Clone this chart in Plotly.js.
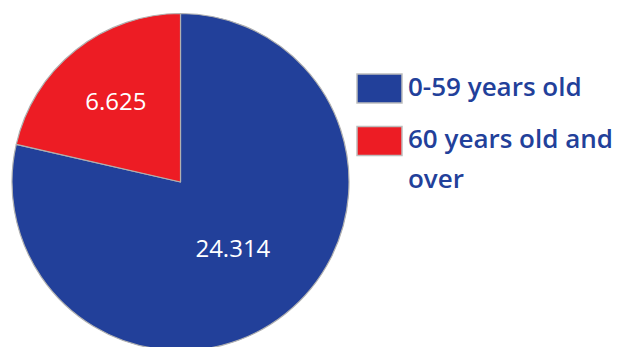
<!DOCTYPE html>
<html><head><meta charset="utf-8">
<script src="https://cdn.plot.ly/plotly-3.0.1.min.js"></script>
<style>html,body{margin:0;padding:0;overflow:hidden;background:#fff;}#chart{width:618px;height:352px;}</style>
</head><body><div id="chart"></div>
<script>
const labels = ["0-59 years old", "60 years old and<br>over"];
const values = [24314, 6625];
const colors = ["#22409A", "#ED1C24"];

const W = 618, H = 352;
const trace = {
  type: "pie",
  labels: labels,
  values: values,
  sort: false,
  direction: "clockwise",
  rotation: 0,
  marker: {colors: colors, line: {color: "#b0b0b0", width: 1.2}},
  texttemplate: "%{value:,}",
  textposition: "inside",
  insidetextorientation: "horizontal",
  textfont: {family: "Open Sans", size: 24, color: "#ffffff", weight: 500},
  domain: {x: [12/W, 349/W], y: [(H-350.5)/H, (H-13.5)/H]},
  hoverinfo: "label+value",
  showlegend: false
};

const shapes = [], annotations = [];
const rowY = [88.5, 141];
const LINE = 40, FS = 26;
labels.forEach((l, i) => {
  const yc = rowY[i];
  shapes.push({type: "rect", xref: "paper", yref: "paper",
    x0: 357/W, x1: 402/W, y0: 1-(yc+14.5)/H, y1: 1-(yc-14.5)/H,
    fillcolor: colors[i], line: {color: "#bdbdbd", width: 1.5}});
  l.split("<br>").forEach((part, j) => {
    const cy = yc - 3 + j*LINE;
    annotations.push({xref: "paper", yref: "paper", x: 406/W, y: 1-cy/H,
      xanchor: "left", yanchor: "middle", align: "left", showarrow: false,
      text: part, font: {family: "Open Sans", size: FS, color: "#22409A", weight: 600}});
  });
});

Plotly.newPlot("chart", [trace], {
  width: W, height: H,
  margin: {l: 0, r: 0, t: 0, b: 0},
  separators: ",.",
  paper_bgcolor: "#ffffff",
  shapes: shapes,
  annotations: annotations
}, {displayModeBar: false, staticPlot: true});
</script></body></html>
